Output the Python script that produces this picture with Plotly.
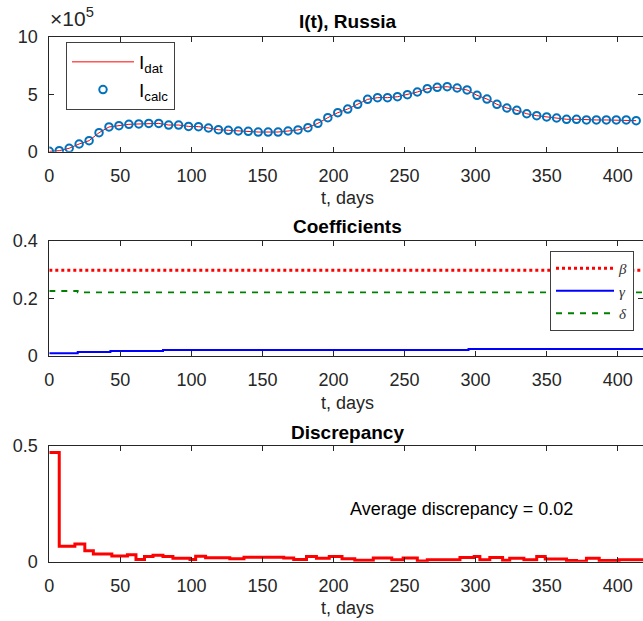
import plotly.graph_objects as go

# ---------------- data ----------------
days_week = [0, 7, 14, 21, 28, 35, 42, 49, 56, 63, 70, 77, 84, 91, 98, 105, 112, 119, 126, 133,
             140, 147, 154, 161, 168, 175, 182, 189, 196, 203, 210, 217, 224, 231, 238, 245, 252,
             259, 266, 273, 280, 287, 294, 301, 308, 315, 322, 329, 336, 343, 350, 357, 364, 371,
             378, 385, 392, 399, 406, 413]
I_calc = [3000, 9000, 30000, 67000, 96000, 165000, 215000, 226000, 238000, 241000, 246000, 246000,
          232000, 232000, 220000, 218000, 206000, 191000, 186000, 180000, 177000, 171000, 171000,
          171000, 180000, 189000, 209000, 247000, 296000, 339000, 371000, 412000, 455000, 470000,
          470000, 478000, 496000, 519000, 548000, 560000, 565000, 554000, 537000, 490000, 458000,
          412000, 380000, 360000, 330000, 313000, 302000, 293000, 282000, 282000, 276000, 276000,
          276000, 276000, 276000, 270000]
I_dat = [3000, 9000, 30000, 67000, 96000, 165000, 215000, 226000, 238000, 241000, 246000, 246000,
         232000, 232000, 220000, 218000, 206000, 191000, 186000, 180000, 177000, 171000, 171000,
         171000, 180000, 189000, 209000, 247000, 296000, 339000, 371000, 412000, 455000, 470000,
         470000, 478000, 496000, 519000, 548000, 560000, 565000, 554000, 537000, 490000, 458000,
         412000, 380000, 360000, 330000, 313000, 302000, 293000, 282000, 282000, 276000, 276000,
         276000, 276000, 276000, 270000]

beta_days = [0, 418]
beta = [0.298, 0.298]
gamma_days = [0, 20, 43, 80, 295, 418]
gamma = [0.0084, 0.0129, 0.0164, 0.0195, 0.0235, 0.0235]
delta_days = [0, 20, 418]
delta = [0.2256, 0.221, 0.221]

disc_days = [0, 7, 18, 25, 31, 44, 55, 61, 67, 73, 80, 87, 99, 103, 110, 127, 137, 165, 172, 181,
             188, 197, 206, 215, 228, 241, 249, 259, 266, 289, 299, 303, 310, 319, 324, 334, 343,
             349, 364, 371, 378, 387, 401, 418]
disc = [0.471, 0.067, 0.076, 0.047, 0.033, 0.025, 0.030, 0.010, 0.022, 0.028, 0.022, 0.015, 0.010,
        0.024, 0.017, 0.013, 0.019, 0.016, 0.010, 0.022, 0.015, 0.022, 0.013, 0.006, 0.016, 0.008,
        0.016, 0.003, 0.008, 0.018, 0.022, 0.008, 0.018, 0.006, 0.015, 0.008, 0.022, 0.012, 0.005,
        0.002, 0.015, 0.005, 0.008, 0.008]

x_ticks = [0, 50, 100, 150, 200, 250, 300, 350, 400]
y1_ticks = [0, 500000, 1000000]
y1_ticktext = ["0", "5", "10"]
y2_ticks = [0, 0.2, 0.4]
y3_ticks = [0, 0.5]

# ---------------- figure ----------------
W, H = 643, 621
FONT = "Liberation Sans, Arial, sans-serif"
AX = "#262626"
FS = 18
XMAX = (643 - 49.3) / 1.421

fig = go.Figure()

fig.add_trace(go.Scatter(x=days_week, y=I_dat, mode="lines", line=dict(color="red", width=1),
                         name="I<sub>dat</sub>", xaxis="x", yaxis="y", legend="legend"))
fig.add_trace(go.Scatter(x=days_week, y=I_calc, mode="markers",
                         marker=dict(symbol="circle-open", size=7.5, color="#0072BD",
                                     line=dict(width=2, color="#0072BD")),
                         name="I<sub>calc</sub>", xaxis="x", yaxis="y", legend="legend"))

fig.add_trace(go.Scatter(x=beta_days, y=beta, mode="lines", line=dict(color="red", width=3, dash="dot"),
                         name="<i>β</i>", xaxis="x2", yaxis="y2", legend="legend2"))
fig.add_trace(go.Scatter(x=gamma_days, y=gamma, mode="lines", line=dict(color="#0000FF", width=2, shape="hv"),
                         name="<i>γ</i>", xaxis="x2", yaxis="y2", legend="legend2"))
fig.add_trace(go.Scatter(x=delta_days, y=delta, mode="lines",
                         line=dict(color="#008000", width=1.8, dash="6px,6px", shape="hv"),
                         name="<i>δ</i>", xaxis="x2", yaxis="y2", legend="legend2"))

fig.add_trace(go.Scatter(x=disc_days, y=disc, mode="lines", line=dict(color="#FF0000", width=3, shape="hv"),
                         showlegend=False, xaxis="x3", yaxis="y3"))

def xax(anchor):
    return dict(domain=[49.3 / W, 1.0], range=[0, XMAX], anchor=anchor, tickvals=x_ticks,
                ticks="inside", ticklen=5, tickcolor=AX, showline=True, linecolor=AX, linewidth=1,
                mirror="ticks", showgrid=False, zeroline=False, ticklabelstandoff=8,
                tickfont=dict(family=FONT, size=FS, color=AX))

def yax(anchor, dom, rng, tv, tt=None):
    d = dict(domain=dom, range=rng, anchor=anchor, tickvals=tv,
             ticks="inside", ticklen=5, tickcolor=AX, showline=True, linecolor=AX, linewidth=1,
             mirror="ticks", showgrid=False, zeroline=False, ticklabelstandoff=7,
             tickfont=dict(family=FONT, size=FS, color=AX))
    if tt is not None:
        d["ticktext"] = tt
    return d

fig.update_layout(
    width=W, height=H, margin=dict(l=0, r=0, t=0, b=0, autoexpand=False),
    paper_bgcolor="white", plot_bgcolor="white",
    xaxis=xax("y"), yaxis=yax("x", [1 - 151.7 / H, 1 - 36.7 / H], [0, 1000000], y1_ticks, y1_ticktext),
    xaxis2=xax("y2"), yaxis2=yax("x2", [1 - 355.7 / H, 1 - 241 / H], [0, 0.4], y2_ticks, ["0", "0.2", "0.4"]),
    xaxis3=xax("y3"), yaxis3=yax("x3", [1 - 561.7 / H, 1 - 445.7 / H], [0, 0.5], y3_ticks, ["0", "0.5"]),
    legend=dict(x=66 / W, y=1 - 42 / H, xanchor="left", yanchor="top", bgcolor="white",
                bordercolor="#404040", borderwidth=1, itemwidth=62, tracegroupgap=0,
                font=dict(family=FONT, size=19, color="black")),
    legend2=dict(x=634 / W, y=1 - 251 / H, xanchor="right", yanchor="top", bgcolor="white",
                 bordercolor="#404040", borderwidth=1, itemwidth=58, tracegroupgap=0,
                 font=dict(family="Liberation Serif, DejaVu Serif, serif", size=15, color="#333333")),
    showlegend=True,
)

annots = [
    ("<b>I(t), Russia</b>", 347.6, 21, 19),
    ("<b>Coefficients</b>", 347.6, 226, 19),
    ("<b>Discrepancy</b>", 347.6, 432, 19),
    ("t, days", 347.6, 198, FS),
    ("t, days", 347.6, 403, FS),
    ("t, days", 347.6, 608, FS),
]
for txt, px, py, fs in annots:
    fig.add_annotation(text=txt, x=px / W, y=1 - py / H, xref="paper", yref="paper",
                       xanchor="center", yanchor="middle", showarrow=False,
                       font=dict(family=FONT, size=fs, color="black" if "<b>" in txt else AX))

fig.add_annotation(text="×10<sup>5</sup>", x=48 / W, y=1 - 17 / H, xref="paper", yref="paper",
                   xanchor="left", yanchor="middle", showarrow=False,
                   font=dict(family=FONT, size=21, color=AX))
fig.add_annotation(text="Average discrepancy = 0.02", x=290, y=0.227, xref="x3", yref="y3",
                   xanchor="center", yanchor="middle", showarrow=False,
                   font=dict(family=FONT, size=FS, color="black"))

fig.write_html("out.html")
